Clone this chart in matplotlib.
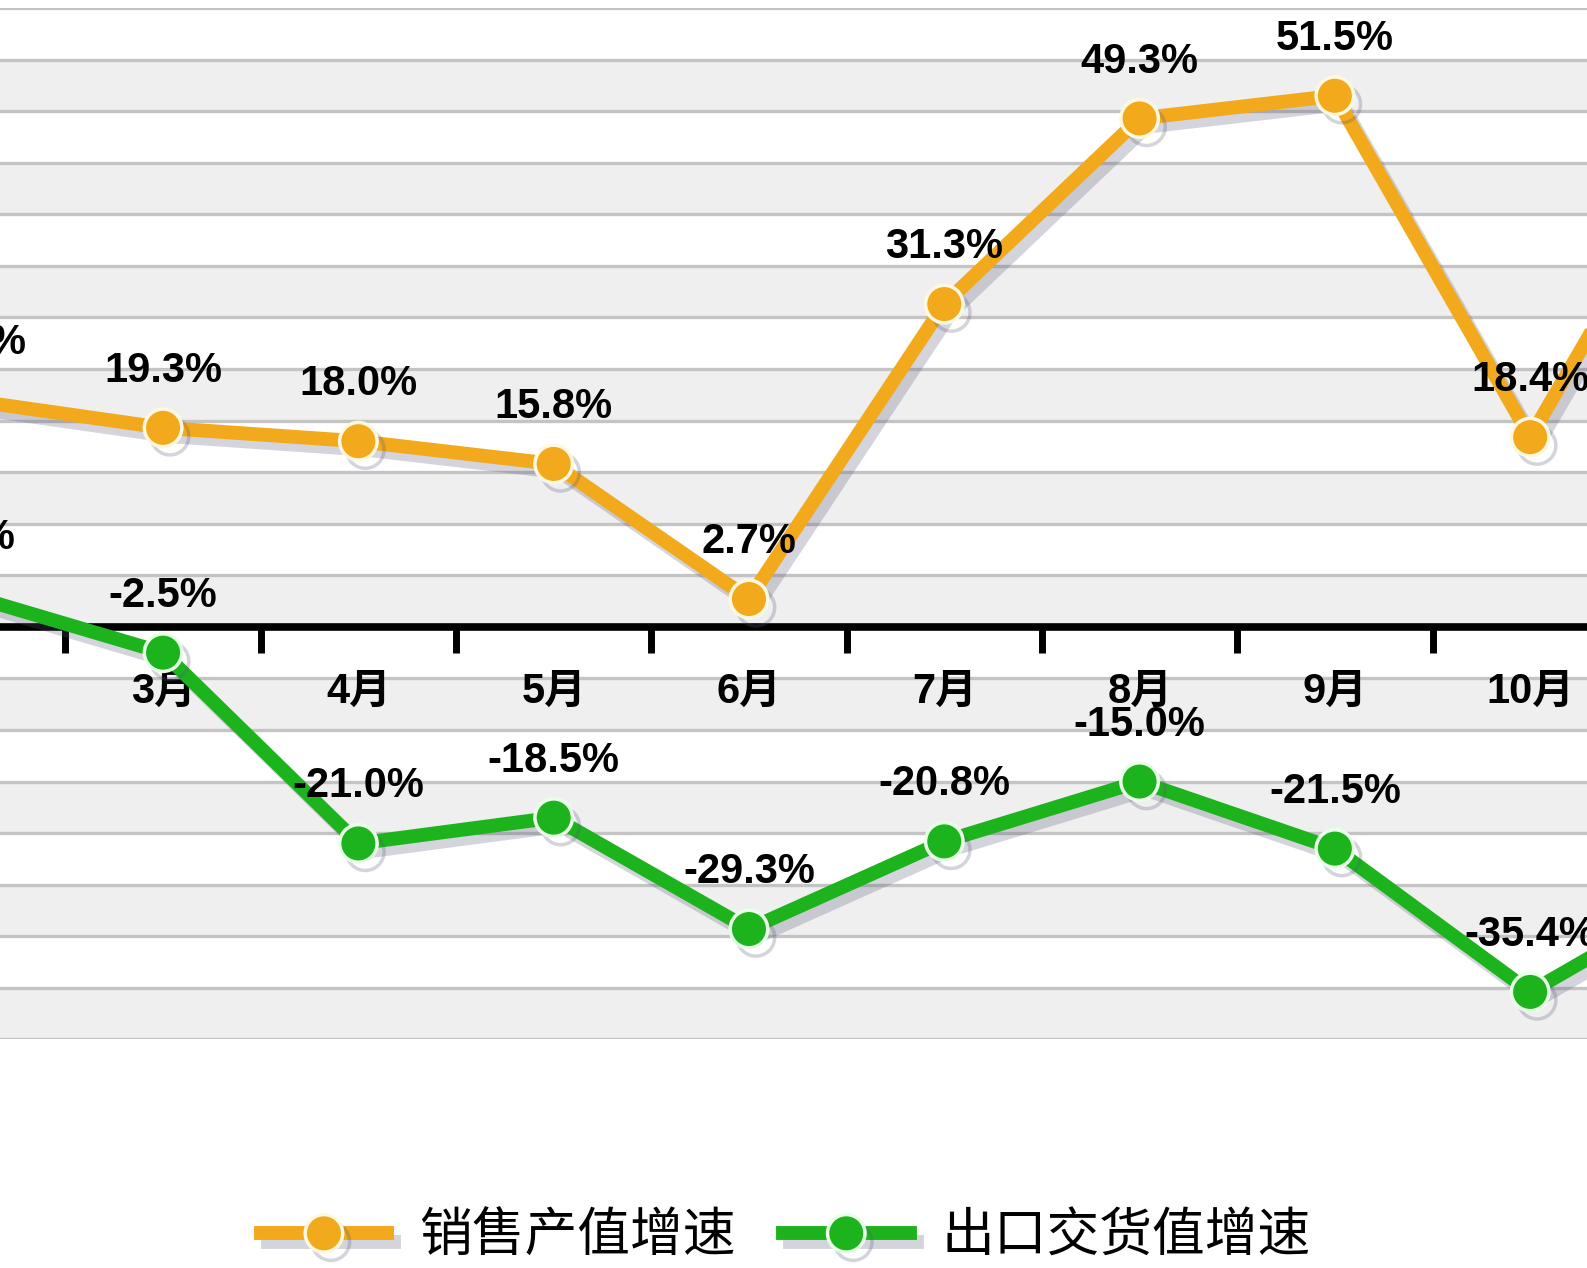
import numpy as np
import matplotlib
matplotlib.use("Agg")
import matplotlib.pyplot as plt
import matplotlib.patheffects as pe
from matplotlib.lines import Line2D

plt.rcParams['font.family'] = ['Liberation Sans', 'Noto Sans CJK SC', 'DejaVu Sans']

# data (2月 and 11月 lie mostly outside the crop)
months = [2, 3, 4, 5, 6, 7, 8, 9, 10, 11]
month_labels = ['2月', '3月', '4月', '5月', '6月', '7月', '8月', '9月', '10月', '11月']
sales_growth = [22.0, 19.3, 18.0, 15.8, 2.7, 31.3, 49.3, 51.5, 18.4, 51.0]
export_growth = [3.1, -2.5, -21.0, -18.5, -29.3, -20.8, -15.0, -21.5, -35.4, -24.5]
series_names = ['销售产值增速', '出口交货值增速']

orange = '#F2A91C'
green = '#1DB31D'

fig = plt.figure(figsize=(15.87, 12.68), dpi=100)
ax = fig.add_axes([0, 0.1803, 1, 0.8133])

# alternating bands and grid lines every 5%
for lo in range(-40, 60, 5):
    if lo % 10 == 0:
        ax.axhspan(lo, lo + 5, color='#efefef', zorder=0, lw=0)
for y in range(-40, 61, 5):
    ax.axhline(y, color='#c4c4c4', lw=2.4, zorder=1)

shadow = [pe.SimpleLineShadow(offset=(5, -6), shadow_color='#555577', alpha=0.25), pe.Normal()]

ax.plot(months, sales_growth, color=orange, lw=10, marker='o', ms=27,
        mfc=orange, mec='#fff8e0', mew=2.5, zorder=4, path_effects=shadow)
ax.plot(months, export_growth, color=green, lw=10, marker='o', ms=27,
        mfc=green, mec='#e8ffe8', mew=2.5, zorder=4, path_effects=shadow)

for m, v in zip(months, sales_growth):
    ax.annotate(f'{v:.1f}%', (m, v), xytext=(0, 41), textcoords='offset points',
                ha='center', va='center', fontsize=30, fontweight='bold', zorder=6,
                annotation_clip=False)
for m, v in zip(months, export_growth):
    ax.annotate(f'{v:.1f}%', (m, v), xytext=(0, 41), textcoords='offset points',
                ha='center', va='center', fontsize=30, fontweight='bold', zorder=6,
                annotation_clip=False)

# month names under the zero line (drawn as annotations so the cut-off 2月 still shows)
for m, lab in zip(months, month_labels):
    ax.annotate(lab, (m, 0), xytext=(0, -47), textcoords='offset points',
                ha='center', va='center', fontsize=30, fontweight='bold', zorder=2,
                annotation_clip=False)

# zero axis with ticks between categories
for s in ['top', 'right', 'left']:
    ax.spines[s].set_visible(False)
ax.spines['bottom'].set_position(('data', 0))
ax.spines['bottom'].set_linewidth(5.5)
ax.spines['bottom'].set_zorder(3)
ax.set_yticks([])
ax.set_xticks([])
ax.set_xticks([m + 0.5 for m in months[:-1]], minor=True)
ax.tick_params(axis='x', which='minor', length=19, width=5, direction='out')
ax.set_xlim(2.165, 10.291)
ax.set_ylim(-40, 60)

handles = [
    Line2D([], [], color=orange, lw=10, marker='o', ms=27, mfc=orange, mec='#fff8e0', mew=2.5,
           path_effects=shadow),
    Line2D([], [], color=green, lw=10, marker='o', ms=27, mfc=green, mec='#e8ffe8', mew=2.5,
           path_effects=shadow),
]
fig.legend(handles, series_names, loc='center', bbox_to_anchor=(0.495, 0.025), ncol=2,
           frameon=False, handlelength=2.4, handletextpad=0.6, columnspacing=0.9,
           prop={'family': ['Noto Sans CJK SC'], 'size': 38, 'weight': 'light'})

fig.savefig('out.png', dpi=100)
